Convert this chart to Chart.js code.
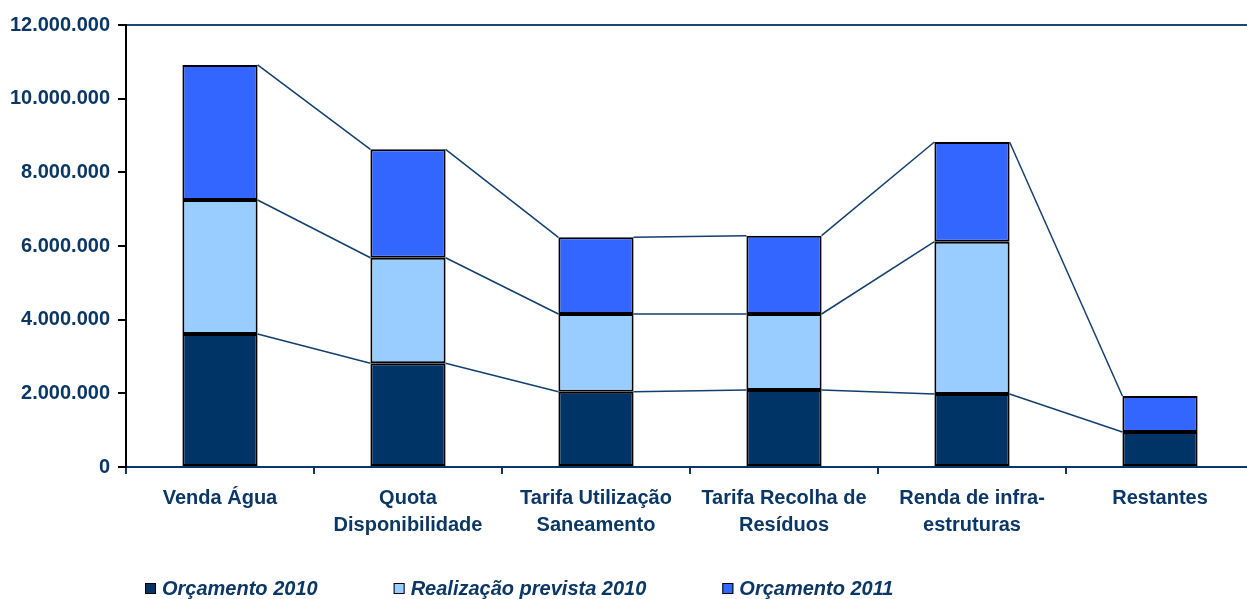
<!DOCTYPE html>
<html>
<head>
<meta charset="utf-8">
<script src="https://cdn.jsdelivr.net/npm/chart.js@4/dist/chart.umd.min.js"></script>
<style>
  html, body { margin: 0; padding: 0; background: #fff; overflow: hidden; }
  #wrap { width: 1254px; height: 599px; }
</style>
</head>
<body>
<div id="wrap"><canvas id="receitas"></canvas></div>
<script>
const categories = [
    ['Venda Água'],
    ['Quota', 'Disponibilidade'],
    ['Tarifa Utilização', 'Saneamento'],
    ['Tarifa Recolha de', 'Resíduos'],
    ['Renda de infra-', 'estruturas'],
    ['Restantes']
];
const orcamento2010 = [3610000, 2815000, 2044000, 2090000, 1982000, 950000];
const realizacao2010 = [3640000, 2867000, 2110000, 2064000, 4135000, null];
const orcamento2011 = [3665000, 2943000, 2082000, 2126000, 2707000, 978000];
const yTicks = [0, 2000000, 4000000, 6000000, 8000000, 10000000, 12000000];

const navy = '#0b3766';
const font = 'Arial, "Liberation Sans", sans-serif';

// linhas de série entre as barras empilhadas (estilo Excel)
const seriesLines = {
    id: 'seriesLines',
    beforeDatasetsDraw(chart) {
        const ctx = chart.ctx;
        ctx.save();
        ctx.strokeStyle = '#123f6f';
        ctx.lineWidth = 1.5;
        chart.data.datasets.forEach((ds, d) => {
            const meta = chart.getDatasetMeta(d);
            for (let i = 0; i < ds.data.length - 1; i++) {
                if (ds.data[i] == null || ds.data[i + 1] == null) continue;
                const a = meta.data[i], b = meta.data[i + 1];
                ctx.beginPath();
                ctx.moveTo(a.x + a.width / 2, a.y);
                ctx.lineTo(b.x - b.width / 2, b.y);
                ctx.stroke();
            }
        });
        ctx.restore();
    }
};

// legenda desenhada à mão para ficar alinhada como no original
const bottomLegend = {
    id: 'bottomLegend',
    afterDraw(chart) {
        const ctx = chart.ctx;
        ctx.save();
        ctx.font = 'italic bold 20px ' + font;
        ctx.textBaseline = 'middle';
        let x = 145;
        const y = 589;
        chart.data.datasets.forEach(ds => {
            ctx.fillStyle = ds.backgroundColor;
            ctx.fillRect(x, y - 6, 11, 11);
            ctx.strokeStyle = '#000';
            ctx.lineWidth = 1;
            ctx.strokeRect(x + 0.5, y - 5.5, 10, 10);
            ctx.fillStyle = navy;
            ctx.fillText(ds.label, x + 17, y);
            x += 17 + ctx.measureText(ds.label).width + 76;
        });
        ctx.restore();
    }
};

const chart = new Chart(document.getElementById('receitas').getContext('2d'), {
    type: 'bar',
    data: {
        labels: categories,
        datasets: [
            { label: 'Orçamento 2010', data: orcamento2010, backgroundColor: '#003366' },
            { label: 'Realização prevista 2010', data: realizacao2010, backgroundColor: '#99ccff' },
            { label: 'Orçamento 2011', data: orcamento2011, backgroundColor: '#3366ff' }
        ]
    },
    options: {
        responsive: true,
        maintainAspectRatio: false,
        animation: false,
        layout: { padding: { top: 25, right: 0, left: 0, bottom: 0 } },
        datasets: {
            bar: {
                borderColor: '#000',
                borderWidth: 2,
                borderSkipped: false,
                categoryPercentage: 1,
                barPercentage: 0.4
            }
        },
        scales: {
            x: {
                stacked: true,
                afterFit: s => { s.height = 132; },
                border: { color: navy, width: 2 },
                grid: { offset: true, drawOnChartArea: false, color: navy, tickLength: 7, lineWidth: 2 },
                ticks: {
                    color: navy,
                    padding: 11,
                    maxRotation: 0,
                    autoSkip: false,
                    font: { family: font, size: 20, weight: 'bold', lineHeight: 1.35 }
                }
            },
            y: {
                stacked: true,
                min: 0,
                max: 12000000,
                afterFit: s => { s.width = 126; },
                afterBuildTicks: s => { s.ticks = yTicks.map(v => ({ value: v })); },
                border: { color: '#000', width: 2 },
                grid: {
                    tickLength: 8,
                    tickColor: '#000',
                    lineWidth: 2,
                    color: c => c.tick && c.tick.value === 12000000 ? '#1b4676' : 'transparent'
                },
                ticks: {
                    color: navy,
                    padding: 8,
                    font: { family: font, size: 20, weight: 'bold' },
                    callback: v => v.toString().replace(/\B(?=(\d{3})+(?!\d))/g, '.')
                }
            }
        },
        plugins: {
            legend: { display: false },
            tooltip: { enabled: false }
        }
    },
    plugins: [seriesLines, bottomLegend]
});
</script>
</body>
</html>
